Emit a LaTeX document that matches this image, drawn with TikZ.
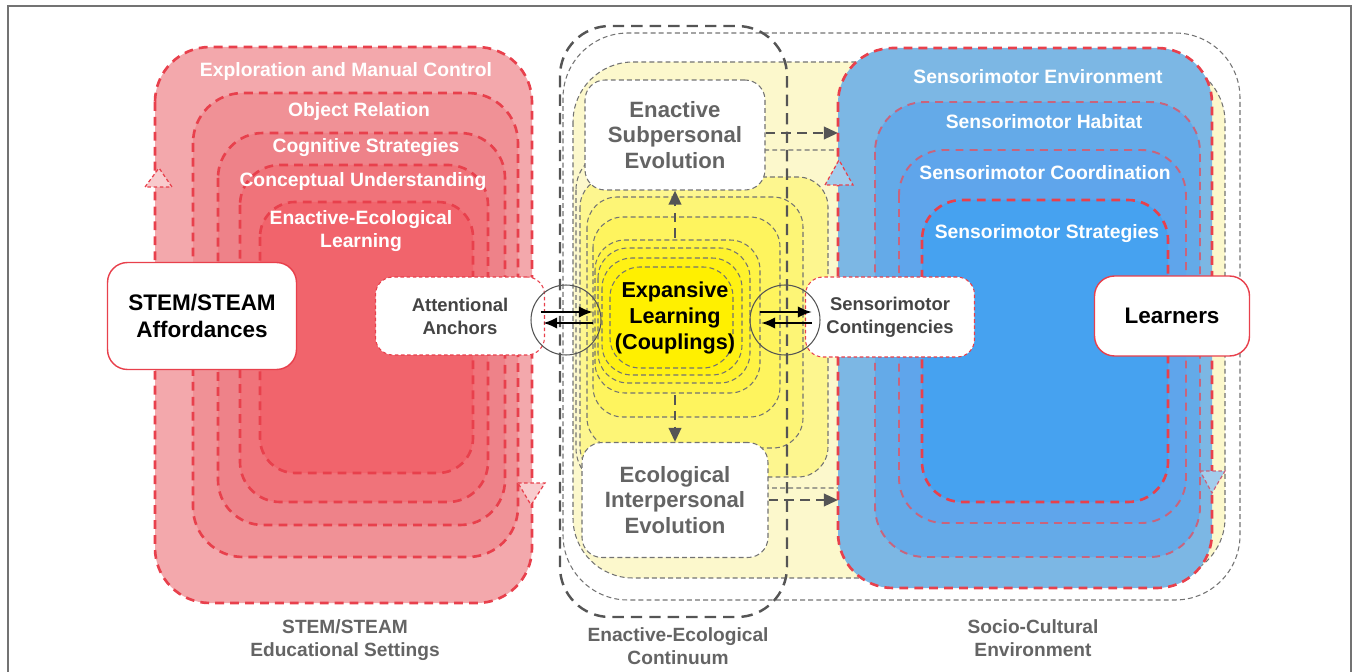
\documentclass[tikz,border=0pt]{standalone}
\usepackage{fontspec}
\setmainfont{Liberation Sans}
\usepackage{xcolor}
\usetikzlibrary{arrows.meta}

\definecolor{redline}{RGB}{232,64,76}
\definecolor{mauve}{RGB}{200,100,125}
\definecolor{greyline}{RGB}{115,115,115}
\definecolor{darkline}{RGB}{85,85,85}
\definecolor{greytext}{RGB}{100,100,100}
\definecolor{redA}{RGB}{243,168,172}
\definecolor{redB}{RGB}{240,145,150}
\definecolor{redC}{RGB}{238,130,137}
\definecolor{redD}{RGB}{240,115,122}
\definecolor{redE}{RGB}{241,100,108}
\definecolor{blueA}{RGB}{124,183,228}
\definecolor{blueB}{RGB}{100,170,232}
\definecolor{blueC}{RGB}{95,165,235}
\definecolor{blueD}{RGB}{70,162,240}
\definecolor{ylwbg}{RGB}{252,248,204}
\definecolor{core}{RGB}{255,240,0}

\begin{document}
\begin{tikzpicture}[x=0.02cm,y=-0.02cm]
\tikzstyle{every node}+=[inner sep=0pt, font=\bfseries, align=center]
\tikzstyle{reddash}=[draw=redline, line width=1.5pt, dash pattern=on 5pt off 3.5pt]
\tikzstyle{mauvedash}=[draw=mauve, line width=1.1pt, dash pattern=on 4.5pt off 3.5pt]
\tikzstyle{greydash}=[draw=greyline, line width=0.6pt, dash pattern=on 2.8pt off 1.8pt]
\tikzstyle{contdash}=[draw=darkline, line width=1.4pt, dash pattern=on 6.5pt off 4pt]
\tikzstyle{whitelbl}=[text=white, font=\bfseries\fontsize{11}{13}\selectfont]
\tikzstyle{footlbl}=[text=greytext, font=\bfseries\fontsize{10.9}{13}\selectfont]
\tikzstyle{evobox}=[draw=greyline, line width=0.6pt, dash pattern=on 2.8pt off 1.8pt, fill=white, rounded corners=0.4cm, text=greytext, font=\bfseries\fontsize{12.6}{14.7}\selectfont]
\tikzstyle{linkbox}=[draw=redline, line width=0.6pt, dash pattern=on 2pt off 1.5pt, fill=white, rounded corners=0.35cm, text=darkline!80!black, font=\bfseries\fontsize{10.5}{13}\selectfont]
\tikzstyle{agentbox}=[draw=redline, line width=0.8pt, fill=white, rounded corners=0.4cm, font=\bfseries\fontsize{12.8}{15.4}\selectfont]
\tikzstyle{flowarrow}=[draw=darkline, line width=1.5pt, dash pattern=on 5.5pt off 3.5pt, -{Triangle[length=8pt,width=7pt]}]
\tikzstyle{pairarrow}=[draw=black, line width=1.4pt, -{Latex[length=8pt,width=6.5pt]}]
\useasboundingbox (0,0) rectangle (1356,672);
\clip (0,0) rectangle (1356,672);
% frame
\draw [greyline, line width=0.8pt] (8,700) -- (8,6) -- (1351,6) -- (1351,700);

% socio-cultural envelope and yellow field
\draw [greydash, rounded corners=1.3cm] (563,33) rectangle (1240,600);
\draw [greydash, fill=ylwbg, rounded corners=1.2cm] (573,62) rectangle (1225,578);
\draw [greydash, rounded corners=0.8cm] (576,150) rectangle (938,488);
% couplings
\foreach \xa/\ya/\xb/\yb/\op in {580/177/828/477/30, 587/197/803/448/42, 593/217/780/417/54, 595/240/760/393/66, 598/248/750/383/78, 602/258/742/375/90, 610/267/733/368/100}
  \draw [greydash, fill=core!\op!ylwbg, rounded corners=0.6cm] (\xa,\ya) rectangle (\xb,\yb);
% continuum
\draw [contdash, rounded corners=1cm] (560,26) rectangle (787,617);

% STEM/STEAM educational settings
\draw [reddash, fill=redA, rounded corners=1.1cm] (155,47) rectangle (532,603);
\draw [reddash, fill=redB, rounded corners=1cm] (193,93) rectangle (518,557);
\draw [reddash, fill=redC, rounded corners=0.9cm] (218,133) rectangle (505,525);
\draw [reddash, fill=redD, rounded corners=0.8cm] (240,165) rectangle (488,502);
\draw [reddash, fill=redE, rounded corners=0.7cm] (260,202) rectangle (473,473);
\draw [redline, line width=0.7pt, dash pattern=on 2pt off 1.5pt, fill=redA!60!white] (145,187) -- (159,168) -- (172,187) -- cycle;
\draw [redline, line width=0.7pt, dash pattern=on 2pt off 1.5pt, fill=redA!60!white] (518,483) -- (545,483) -- (531,505) -- cycle;

% sensorimotor layers
\draw [reddash, fill=blueA, rounded corners=1.1cm] (838,48) rectangle (1212,588);
\draw [mauvedash, fill=blueB, rounded corners=1cm] (875,102) rectangle (1200,557);
\draw [mauvedash, fill=blueC, rounded corners=0.9cm] (899,150) rectangle (1186,523);
\draw [reddash, fill=blueD, rounded corners=0.8cm] (922,200) rectangle (1168,502);
\draw [redline, line width=0.7pt, dash pattern=on 2pt off 1.5pt, fill=blueA!70!white] (825,185) -- (839,160) -- (853,185) -- cycle;
\draw [mauve, line width=0.7pt, dash pattern=on 2pt off 1.5pt, fill=blueA!70!white] (1200,471) -- (1225,471) -- (1212,493) -- cycle;

% layer titles
\node [whitelbl] (explore) at (346,72) {Exploration and Manual Control};
\node [whitelbl] (objrel) at (359,112) {Object Relation};
\node [whitelbl] (cogstr) at (366,148) {Cognitive Strategies};
\node [whitelbl] (concept) at (363,182) {Conceptual Understanding};
\node [whitelbl] (eelearn) at (361,231) {Enactive-Ecological\\Learning};
\node [whitelbl] (smenv) at (1038,77) {Sensorimotor Environment};
\node [whitelbl] (smhab) at (1044,122) {Sensorimotor Habitat};
\node [whitelbl] (smcoord) at (1045,173) {Sensorimotor Coordination};
\node [whitelbl] (smstrat) at (1047,234) {Sensorimotor Strategies};

% boxes
\node [evobox, minimum width=3.6cm, minimum height=2.2cm] (subp) at (675,135) {Enactive\\Subpersonal\\Evolution};
\node [evobox, minimum width=3.72cm, minimum height=2.3cm] (inter) at (675,500) {Ecological\\Interpersonal\\Evolution};
\node [font=\bfseries\fontsize{12.3}{15}\selectfont] (coup) at (675,318) {Expansive\\Learning\\(Couplings)};
\node [agentbox, minimum width=3.78cm, minimum height=2.14cm] (stem) at (202,316) {STEM/STEAM\\Affordances};
\node [agentbox, minimum width=3.1cm, minimum height=1.6cm] (learn) at (1172,316) {Learners};
\node [linkbox, minimum width=3.38cm, minimum height=1.56cm] (anch) at (460,316) {Attentional\\Anchors};
\node [linkbox, minimum width=3.38cm, minimum height=1.6cm] (senscont) at (890,317) {Sensorimotor\\Contingencies};

% couplings in both directions
\node [circle, draw=darkline, line width=0.6pt, minimum size=1.4cm] (lring) at (566,320) {};
\node [circle, draw=darkline, line width=0.6pt, minimum size=1.4cm] (rring) at (785,320) {};
\coordinate (la) at (541,312);
\coordinate (lb) at (593,312);
\coordinate (lc) at (593,323);
\coordinate (ld) at (543,323);
\coordinate (ra) at (760,312);
\coordinate (rb) at (812,312);
\coordinate (rc) at (812,323);
\coordinate (rd) at (761,323);
\draw [pairarrow] (la) -- (lb);
\draw [pairarrow] (lc) -- (ld);
\draw [pairarrow] (ra) -- (rb);
\draw [pairarrow] (rc) -- (rd);

% evolution flows
\coordinate (upfrom) at (675,238);
\coordinate (downfrom) at (675,395);
\coordinate (subpto) at (838,133);
\coordinate (interto) at (838,500);
\draw [flowarrow] (upfrom) -- (subp.south);
\draw [flowarrow] (downfrom) -- (inter.north);
\draw [flowarrow] (subp.east |- subpto) -- (subpto);
\draw [flowarrow] (inter.east |- interto) -- (interto);

% captions
\node [footlbl] (settings) at (345,640) {STEM/STEAM\\Educational Settings};
\node [footlbl] (continuum) at (678,646) {Enactive-Ecological\\Continuum};
\node [footlbl] (socio) at (1033,638) {Socio-Cultural\\Environment};
\end{tikzpicture}
\end{document}
